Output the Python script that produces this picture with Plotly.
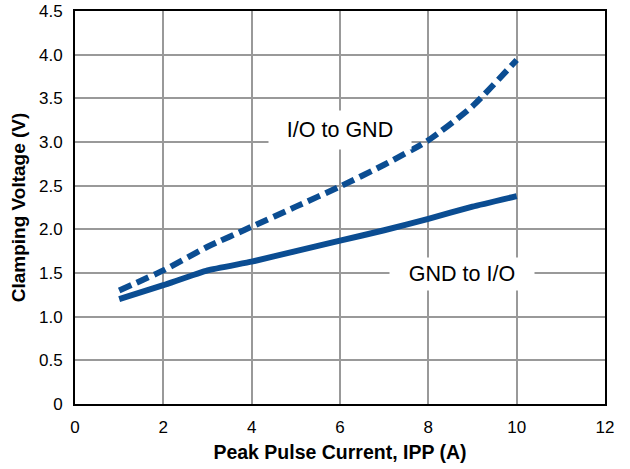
import plotly.graph_objects as go

x_vals = [1, 2, 3, 4, 5, 6, 7, 8, 9, 10]
io_to_gnd = [1.30, 1.53, 1.80, 2.03, 2.26, 2.49, 2.74, 3.02, 3.41, 3.94]
gnd_to_io = [1.20, 1.36, 1.53, 1.63, 1.75, 1.87, 1.99, 2.12, 2.26, 2.38]
y_ticks = [0, 0.5, 1.0, 1.5, 2.0, 2.5, 3.0, 3.5, 4.0, 4.5]
y_tick_text = ["0", "0.5", "1.0", "1.5", "2.0", "2.5", "3.0", "3.5", "4.0", "4.5"]
x_ticks = [0, 2, 4, 6, 8, 10, 12]

color = "#0b4d92"
font_family = "Liberation Sans, Arial"
fig = go.Figure()
fig.add_trace(go.Scatter(x=x_vals, y=io_to_gnd, mode="lines",
                         line=dict(color=color, width=6, dash="13px,6px", shape="spline", smoothing=0.6),
                         showlegend=False))
fig.add_trace(go.Scatter(x=x_vals, y=gnd_to_io, mode="lines",
                         line=dict(color=color, width=6, shape="spline", smoothing=0.4),
                         showlegend=False))

fig.add_annotation(x=6.0, y=3.14, text="I/O to GND", showarrow=False,
                   bgcolor="white", width=140, height=36,
                   font=dict(family=font_family, size=21.5, color="black"))
fig.add_annotation(x=8.77, y=1.49, text="GND to I/O", showarrow=False,
                   bgcolor="white", width=142, height=30,
                   font=dict(family=font_family, size=21.5, color="black"))

axis_common = dict(showline=True, linecolor="black", linewidth=2, mirror=True,
                   showgrid=True, gridcolor="#999999", gridwidth=2, zeroline=False,
                   ticks="", ticklabelstandoff=7, automargin=False,
                   tickfont=dict(family=font_family, size=17, color="black"))

fig.update_xaxes(range=[0, 12], tickvals=x_ticks, **axis_common,
                 title=dict(text="<b>Peak Pulse Current, IPP (A)</b>", standoff=9,
                            font=dict(family=font_family, size=19.5, color="black")))
fig.update_yaxes(range=[0, 4.5], tickvals=y_ticks, ticktext=y_tick_text, **axis_common,
                 title=dict(text="<b>Clamping Voltage (V)</b>", standoff=8,
                            font=dict(family=font_family, size=19, color="black")))

fig.update_layout(width=630, height=469, margin=dict(l=75, r=25, t=11, b=65),
                  plot_bgcolor="white", paper_bgcolor="white")
fig.write_html("out.html", post_script="document.body.style.margin='0';",
               config={"displayModeBar": False})
